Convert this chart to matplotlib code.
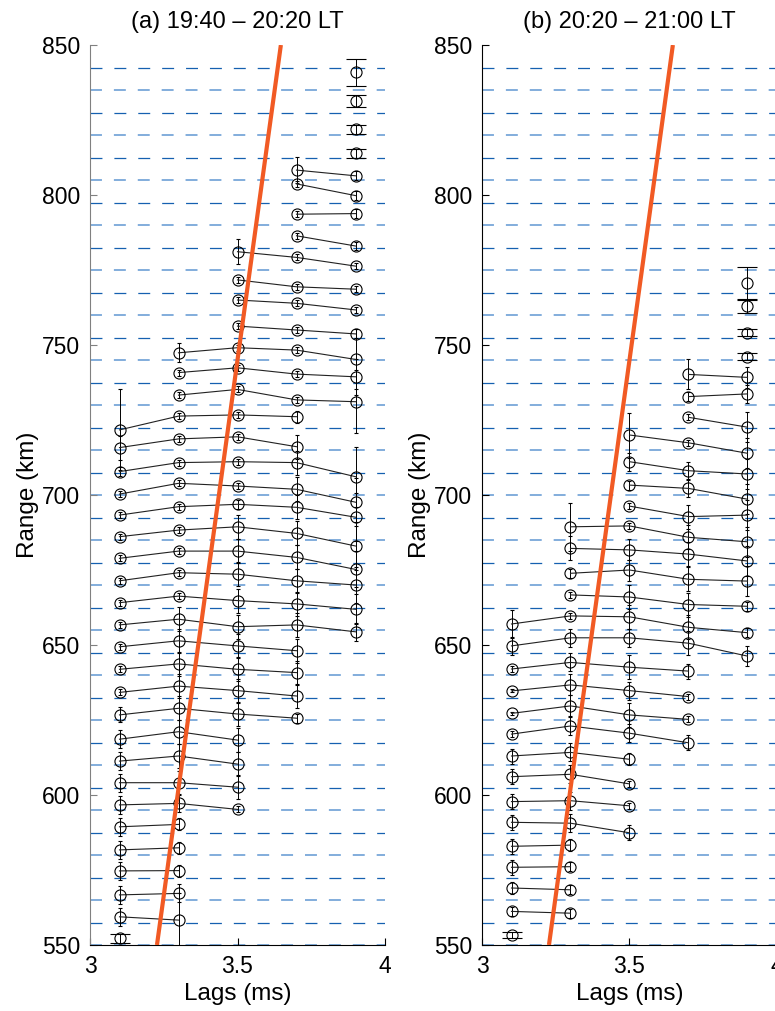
import numpy as np
import matplotlib
matplotlib.use('Agg')
import matplotlib.pyplot as plt

plt.rcParams['font.family'] = ['Liberation Sans', 'DejaVu Sans']
plt.rcParams['lines.scale_dashes'] = False

lags = [3.1, 3.3, 3.5, 3.7, 3.9]

# panel (a): each track starts at lags[a_start[i]] and runs to the right
a_start = [4, 4, 4, 4, 3, 3, 3, 3, 2, 2, 2, 2, 1, 1, 1,
           0, 0, 0, 0, 0, 0, 0, 0, 0, 0, 0, 0, 0, 0, 0, 0, 0, 0, 0, 0, 0, 0, 0, 0]
a_range = [[840.9], [831.3], [822.0], [813.9],
           [808.3, 806.4], [803.7, 799.8], [793.6, 793.8], [786.4, 783.0],
           [781.1, 779.2, 776.3], [771.7, 769.4, 768.6], [765.0, 763.9, 761.7],
           [756.3, 755.0, 753.7],
           [747.4, 749.1, 748.3, 745.2], [740.8, 742.4, 740.3, 739.4],
           [733.3, 735.2, 731.7, 731.1],
           [721.7, 726.3, 726.7, 726.1], [715.8, 718.7, 719.4, 716.1],
           [707.8, 710.8, 711.1, 710.8, 706.1], [700.3, 703.9, 703.0, 701.9, 697.6],
           [693.3, 696.1, 696.9, 695.9, 692.6], [686.1, 688.3, 689.4, 687.2, 683.0],
           [678.9, 681.3, 681.3, 679.2, 675.2], [671.4, 674.1, 673.6, 671.4, 670.0],
           [664.1, 666.3, 664.8, 663.7, 661.9], [656.7, 658.6, 656.1, 656.7, 654.4],
           [649.4, 651.4, 649.7, 648.1], [641.9, 643.7, 641.9, 640.8],
           [634.2, 636.3, 634.8, 633.0], [626.7, 628.9, 627.0, 625.6],
           [618.6, 621.1, 618.3], [611.3, 613.0, 610.3], [604.1, 604.1, 602.6],
           [596.7, 597.2, 595.2], [589.4, 590.2], [581.7, 582.4], [574.7, 574.8],
           [566.7, 567.2], [559.4, 558.3], [552.2]]
a_err = [[4.6], [2.0], [1.5], [1.5],
         [4.4, 1.5], [1.0, 1.5], [1.0, 1.5], [1.0, 1.2],
         [4.2, 1.0, 1.0], [1.0, 1.0, 1.0], [1.0, 1.0, 1.0], [1.0, 1.0, 1.5],
         [3.2, 1.0, 1.0, 10.0], [1.0, 1.0, 1.0, 6.0], [1.0, 1.0, 1.0, 10.5],
         [13.5, 1.0, 1.0, 2.0], [4.0, 1.0, 1.0, 4.0],
         [1.5, 1.0, 1.0, 4.0, 10.0], [1.0, 1.0, 1.0, 4.0, 8.0],
         [1.0, 1.0, 1.5, 4.0, 8.0], [1.0, 1.0, 4.0, 4.0, 8.0],
         [1.0, 1.0, 4.0, 4.0, 6.0], [1.0, 1.0, 4.0, 4.0, 6.0],
         [1.0, 1.0, 4.0, 4.0, 5.0], [1.0, 4.0, 4.0, 4.0, 3.0],
         [1.0, 4.0, 4.0, 4.0], [1.0, 4.0, 4.0, 4.0],
         [1.0, 4.0, 4.0, 4.0], [2.5, 4.0, 4.0, 1.5],
         [3.0, 4.0, 4.0], [3.0, 4.0, 4.0], [3.0, 4.0, 4.0],
         [3.0, 3.0, 1.0], [3.0, 2.0], [3.0, 2.0], [3.0, 2.0],
         [3.0, 3.0], [3.0, 9.0], [1.5]]

# panel (b)
b_start = [4, 4, 4, 4, 3, 3, 3, 2, 2, 2, 2, 1, 1, 1, 1,
           0, 0, 0, 0, 0, 0, 0, 0, 0, 0, 0, 0, 0, 0, 0]
b_range = [[770.6], [763.0], [754.1], [746.1],
           [740.2, 739.2], [732.8, 733.7], [725.9, 722.6],
           [720.0, 717.4, 713.9], [711.1, 708.1, 707.0], [703.3, 702.2, 698.6],
           [696.3, 692.8, 693.3],
           [689.4, 689.7, 685.9, 684.4], [682.2, 681.7, 680.3, 678.0],
           [673.9, 675.0, 671.9, 671.3], [666.7, 666.0, 663.5, 662.9],
           [657.0, 659.7, 659.4, 655.9, 654.1], [649.7, 652.4, 652.4, 650.6, 646.3],
           [642.0, 644.2, 642.6, 641.3], [634.7, 636.7, 634.8, 632.8],
           [627.2, 629.7, 626.7, 625.2], [620.3, 623.0, 620.6, 617.4],
           [613.0, 614.2, 611.9], [606.1, 606.9, 603.7], [597.8, 598.1, 596.4],
           [590.9, 590.6, 587.4], [582.9, 583.3], [575.9, 576.1], [569.0, 568.4],
           [561.2, 560.6], [553.4]]
b_err = [[5.5], [2.2], [1.2], [1.2],
         [5.0, 3.5], [1.5, 3.0], [1.0, 5.0],
         [7.5, 1.0, 5.0], [3.0, 3.0, 5.0], [1.5, 3.0, 5.0], [1.0, 4.0, 5.0],
         [8.0, 1.0, 4.0, 5.0], [4.0, 3.5, 4.0, 5.0],
         [1.5, 3.5, 4.0, 5.0], [1.0, 4.0, 4.0, 1.5],
         [4.6, 1.0, 4.0, 4.0, 1.5], [3.0, 3.0, 3.0, 4.0, 3.4],
         [1.0, 3.0, 4.0, 2.5], [0.5, 3.5, 3.0, 1.0],
         [0.5, 3.5, 4.0, 1.0], [1.0, 3.0, 3.0, 2.5],
         [2.5, 3.0, 2.0], [2.5, 3.0, 1.0], [2.5, 3.0, 1.0],
         [2.5, 3.0, 2.5], [2.5, 2.0], [2.5, 1.5], [2.0, 1.5],
         [1.5, 1.5], [1.0]]

# range gates (dashed) and the fitted line
gates = np.arange(550, 843, 7.5)
fit_lag = [3.227, 3.647]
fit_range = [550, 850]


def draw_panel(ax, start, rng, err, title, spine_col):
    for k, g in enumerate(gates):
        if k % 2 == 0:
            ax.axhline(g, color='#6d9fd6', lw=1.2, ls=(0, (8.6, 8.6)), zorder=1)
        else:
            ax.axhline(g, color='#1560b0', lw=0.9, ls=(0, (8.6, 8.6)), zorder=1)
    for s, r, e in zip(start, rng, err):
        x = lags[s:s + len(r)]
        cap = 7.5 if len(r) == 1 else 1.2
        ax.errorbar(x, r, yerr=e, fmt='-o', color='#222222', ecolor='k',
                    elinewidth=0.7, lw=0.8, ms=8, mfc='none', mec='k', mew=0.8,
                    capsize=cap, capthick=0.7, zorder=4)
    ax.plot(fit_lag, fit_range, color='#f15a24', lw=3.0, zorder=5,
            solid_capstyle='butt')

    ax.set_xlim(3, 4)
    ax.set_ylim(550, 850)
    ax.set_xticks([3, 3.5, 4])
    ax.set_xticklabels(['3', '3.5', '4'])
    ax.set_yticks(np.arange(550, 851, 50))
    ax.tick_params(direction='in', length=5, width=0.8, labelsize=16.5, pad=7)
    ax.tick_params(axis='y', color=spine_col)
    for side in ['top', 'right']:
        ax.spines[side].set_visible(False)
    for side in ['left', 'bottom']:
        ax.spines[side].set_linewidth(0.8)
    ax.spines['left'].set_color(spine_col)
    ax.set_xlabel('Lags (ms)', fontsize=17.5, labelpad=4)
    ax.set_ylabel('Range (km)', fontsize=17.5, labelpad=2)
    ax.set_title(title, fontsize=17, pad=12)


fig = plt.figure(figsize=(7.75, 10.11), dpi=100)
ax1 = fig.add_axes([90 / 775, 66 / 1011, 295 / 775, 900 / 1011])
ax2 = fig.add_axes([482 / 775, 66 / 1011, 295 / 775, 900 / 1011])
draw_panel(ax1, a_start, a_range, a_err, '(a) 19:40 \u2013 20:20 LT', '#808080')
draw_panel(ax2, b_start, b_range, b_err, '(b) 20:20 \u2013 21:00 LT', 'black')

fig.savefig('out.png', dpi=100)
